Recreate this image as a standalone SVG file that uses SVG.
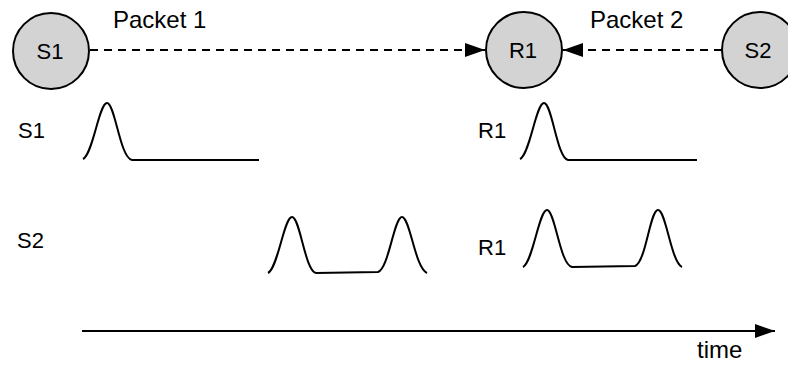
<svg xmlns="http://www.w3.org/2000/svg" width="788" height="370" viewBox="0 0 788 370">
  <defs>
    <style>
      .node circle { fill: #d3d3d3; stroke: #000; stroke-width: 2; }
      text { font-family: "Liberation Sans", Arial, sans-serif; font-size: 22px; fill: #000; }
      .big { font-size: 24px; }
      .mid { text-anchor: middle; }
      .dash { fill: none; stroke: #000; stroke-width: 2; stroke-dasharray: 8 6; }
      .wave { fill: none; stroke: #000; stroke-width: 2; stroke-linejoin: round; }
      .axis { fill: none; stroke: #000; stroke-width: 2; }
    </style>
    <marker id="head" markerUnits="userSpaceOnUse" markerWidth="22" markerHeight="16" refX="20" refY="8" orient="auto">
      <path d="M0,1 L20,8 L0,15 Z" fill="#000"/>
    </marker>
  </defs>

  <rect width="788" height="370" fill="#fff"/>

  <!-- packet connectors -->
  <g id="connectors">
    <line class="dash" x1="90" y1="50" x2="485" y2="50" marker-end="url(#head)"/>
    <line class="dash" x1="722" y1="50" x2="563" y2="50" marker-end="url(#head)"/>
  </g>

  <text class="big" x="113" y="28">Packet 1</text>
  <text class="big" x="590" y="28">Packet 2</text>

  <g id="node-s1" class="node">
    <circle cx="51" cy="51" r="38"/>
    <text class="mid" x="50" y="59">S1</text>
  </g>
  <g id="node-r1" class="node">
    <circle cx="524" cy="50" r="38"/>
    <text class="mid" x="523" y="58">R1</text>
  </g>
  <g id="node-s2" class="node">
    <circle cx="760" cy="50" r="38"/>
    <text class="mid" x="758" y="58">S2</text>
  </g>

  <!-- signal traces -->
  <g id="traces">
    <text x="18" y="138">S1</text>
    <path class="wave" d="M83,159 C93,154 99,103 107,103 C115,103 120,158 132,160 L259,160"/>

    <text x="478" y="138">R1</text>
    <path class="wave" d="M520,159 C530,154 536,103 544,103 C552,103 557,158 568,160 L697,160"/>

    <text x="17" y="248">S2</text>
    <path class="wave" d="M268,273 C278,268 284,217 292,217 C300,217 305,271 316,273 L378,272 C389,268 394,217 402,217 C410,217 415,268 427,273"/>

    <text x="478" y="255">R1</text>
    <path class="wave" d="M523,267 C533,262 539,210 547,210 C555,210 560,265 572,267 L635,266 C646,262 650,210 658,210 C666,210 671,262 682,267"/>
  </g>

  <!-- time axis -->
  <g id="time-axis">
    <line class="axis" x1="82" y1="331" x2="775" y2="331" marker-end="url(#head)"/>
    <text class="big" x="697" y="358">time</text>
  </g>
</svg>
